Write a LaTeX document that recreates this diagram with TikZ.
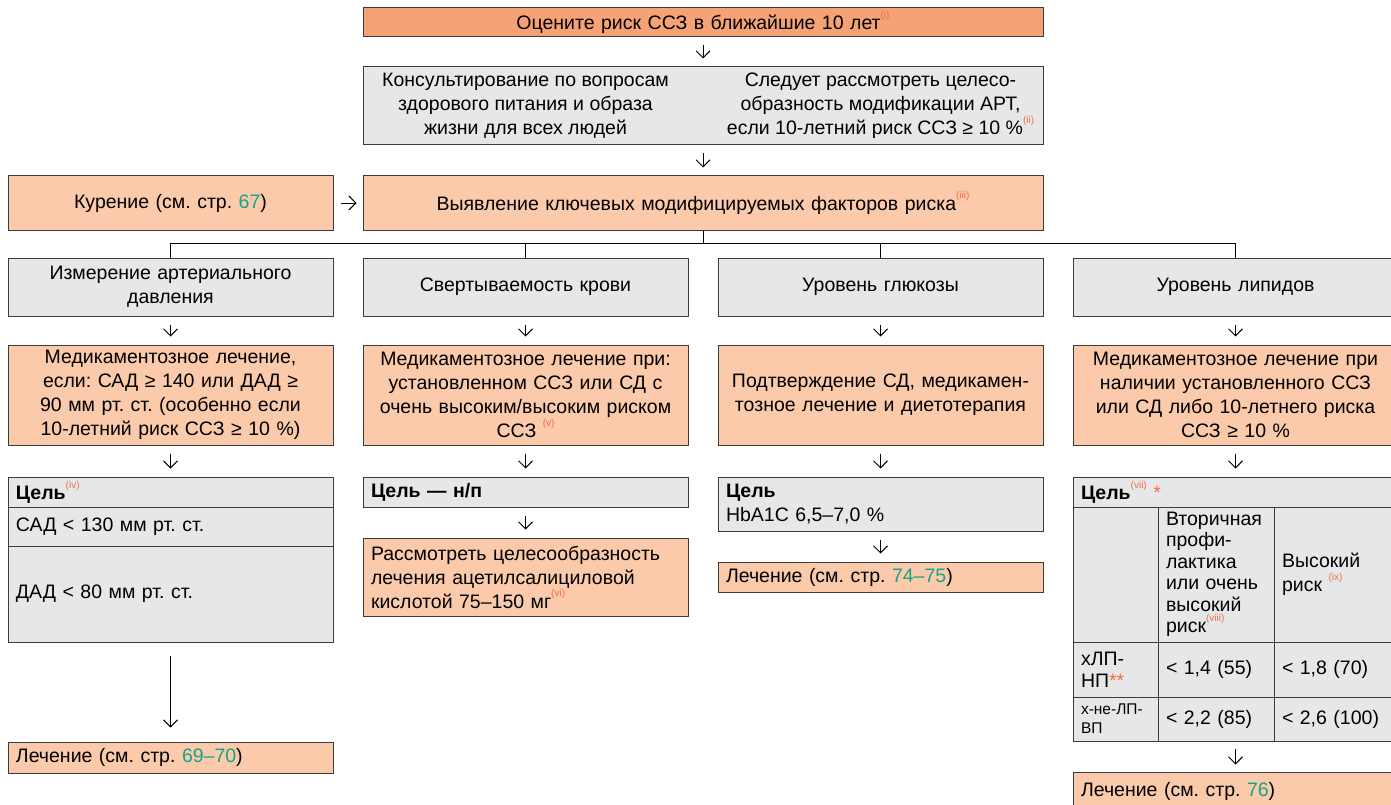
\documentclass[tikz,border=0pt]{standalone}
\usepackage{fontspec}
\setmainfont{Liberation Sans}
\usepackage{xcolor}
\usetikzlibrary{arrows.meta, calc, positioning}
\definecolor{salmondark}{RGB}{245,162,118}
\definecolor{salmonlight}{RGB}{251,202,171}
\definecolor{boxgray}{RGB}{230,231,232}
\definecolor{linegray}{RGB}{60,60,60}
\definecolor{linkgreen}{RGB}{20,165,135}
\definecolor{notered}{RGB}{242,110,70}
\frenchspacing
\newcommand{\bodyfont}{\fontsize{19.5}{24}\selectfont}
\newcommand{\noteref}[1]{\raisebox{1.1ex}{\color{notered}\fontsize{10}{10}\selectfont(#1)}}
\newcommand{\pg}[1]{\textcolor{linkgreen}{#1}}

\begin{document}
\begin{tikzpicture}[x=1pt, y=-1pt,
    base/.style={draw=linegray, line width=1pt, inner xsep=8pt, inner ysep=0pt, font=\bodyfont},
    darkbox/.style={base, fill=salmondark, align=center},
    orangebox/.style={base, fill=salmonlight, align=center},
    graybox/.style={base, fill=boxgray, align=center},
    leftbox/.style={align=left},
    colbox/.style={minimum width=325pt, text width=309pt},
    plain/.style={inner sep=0pt, align=center, font=\bodyfont},
    flow/.style={-{Straight Barb[length=7pt,width=14pt]}, line width=1pt, shorten <=8pt, shorten >=8pt},
    link/.style={line width=1pt}]
    \useasboundingbox (0,0) rectangle (1391,805);

    % Top of the chart
    \node[darkbox, minimum width=680pt, text width=664pt, minimum height=29pt] (assess) at (703,22.5) {Оцените риск ССЗ в ближайшие 10 лет\noteref{i}};
    \node[graybox, minimum width=680pt, minimum height=78pt] (advice) at (703,106) {};
    \node[plain] (adviceL) at (525.5,106) {Консультирование по вопросам\\здорового питания и образа\\жизни для всех людей};
    \node[plain] (adviceR) at (880.5,106) {Следует рассмотреть целесо-\\образность модификации АРТ,\\если 10-летний риск ССЗ ≥ 10~\%\noteref{ii}};
    \node[orangebox, minimum width=680pt, text width=664pt, minimum height=54pt] (factors) at (703,203) {Выявление ключевых модифицируемых факторов риска\noteref{iii}};
    \node[orangebox, colbox, minimum height=54pt] (smoke) at (170.5,203) {Курение (см. стр. \pg{67})};

    % Risk factor columns
    \node[graybox, colbox, minimum height=58pt] (bp) at (170.5,287) {Измерение артериального\\давления};
    \node[graybox, colbox, minimum height=58pt] (clot) at (525.5,287) {Свертываемость крови};
    \node[graybox, colbox, minimum height=58pt] (gluc) at (880.5,287) {Уровень глюкозы};
    \node[graybox, colbox, minimum height=58pt] (lip) at (1235.5,287) {Уровень липидов};

    \node[orangebox, colbox, minimum height=100pt] (bpdrug) at (170.5,395) {Медикаментозное лечение,\\если: САД ≥ 140 или ДАД ≥\\90 мм рт. ст. (особенно если\\10-летний риск ССЗ ≥ 10~\%)};
    \node[orangebox, colbox, minimum height=100pt] (clotdrug) at (525.5,395) {Медикаментозное лечение при:\\установленном ССЗ или СД с\\очень высоким/высоким риском\\ССЗ \noteref{v}};
    \node[orangebox, colbox, minimum height=100pt] (glucdrug) at (880.5,395) {Подтверждение СД, медикамен-\\тозное лечение и диетотерапия};
    \node[orangebox, colbox, minimum height=100pt] (lipdrug) at (1235.5,395) {Медикаментозное лечение при\\наличии установленного ССЗ\\или СД либо 10-летнего риска\\ССЗ ≥ 10~\%};

    % Blood pressure targets
    \node[graybox, colbox, leftbox, minimum height=30pt] (bpgoal) at (170.5,492) {\textbf{Цель}\noteref{iv}};
    \node[graybox, colbox, leftbox, minimum height=39pt] (bpsys) at (170.5,526.5) {САД < 130 мм рт. ст.};
    \node[graybox, colbox, leftbox, minimum height=96pt] (bpdia) at (170.5,594) {ДАД < 80 мм рт. ст.};
    \node[orangebox, colbox, leftbox, minimum height=31pt] (bptreat) at (170.5,757.5) {Лечение (см. стр. \pg{69–70})};

    % Clotting targets
    \node[graybox, colbox, leftbox, minimum height=30pt] (clotgoal) at (525.5,492) {\textbf{Цель — н/п}};
    \node[orangebox, colbox, leftbox, minimum height=78pt] (clotasa) at (525.5,577) {Рассмотреть целесообразность\\лечения ацетилсалициловой\\кислотой 75–150 мг\noteref{vi}};

    % Glucose targets
    \node[graybox, colbox, leftbox, minimum height=54pt] (glucgoal) at (880.5,504) {\textbf{Цель}\\HbA1C 6,5–7,0~\%};
    \node[orangebox, colbox, leftbox, minimum height=30pt] (gluctreat) at (880.5,577) {Лечение (см. стр. \pg{74–75})};

    % Lipid targets table
    \node[graybox, colbox, leftbox, minimum height=30pt] (lipgoal) at (1235.5,492) {\textbf{Цель}\noteref{vii} \textcolor{notered}{*}};
    \node[graybox, leftbox, minimum width=85pt, text width=69pt, minimum height=135pt] (lipA0) at (1115.5,574.5) {};
    \node[graybox, leftbox, minimum width=116pt, text width=100pt, minimum height=135pt, font=\fontsize{19.5}{21.5}\selectfont] (lipA1) at (1216,574.5) {Вторичная\\профи-\\лактика\\или очень\\высокий\\риск\noteref{viii}};
    \node[graybox, leftbox, minimum width=124pt, text width=108pt, minimum height=135pt] (lipA2) at (1336,574.5) {Высокий\\риск \noteref{ix}};
    \node[graybox, leftbox, minimum width=85pt, text width=69pt, minimum height=55pt, font=\fontsize{19.5}{22}\selectfont] (lipB0) at (1115.5,669.5) {хЛП-\\НП\textcolor{notered}{**}};
    \node[graybox, leftbox, minimum width=116pt, text width=100pt, minimum height=55pt] (lipB1) at (1216,669.5) {< 1,4 (55)};
    \node[graybox, leftbox, minimum width=124pt, text width=108pt, minimum height=55pt] (lipB2) at (1336,669.5) {< 1,8 (70)};
    \node[graybox, leftbox, minimum width=85pt, text width=69pt, minimum height=44pt, font=\fontsize{15.5}{19}\selectfont] (lipC0) at (1115.5,719) {х-не-ЛП-\\ВП};
    \node[graybox, leftbox, minimum width=116pt, text width=100pt, minimum height=44pt] (lipC1) at (1216,719) {< 2,2 (85)};
    \node[graybox, leftbox, minimum width=124pt, text width=108pt, minimum height=44pt] (lipC2) at (1336,719) {< 2,6 (100)};
    \node[orangebox, colbox, leftbox, minimum height=38pt] (liptreat) at (1235.5,791) {Лечение (см. стр. \pg{76})};

    % Connectors
    \draw[flow] (assess) -- (advice);
    \draw[flow] (advice) -- (factors);
    \draw[flow, shorten <=7pt, shorten >=6pt] (smoke) -- (factors);
    \coordinate (hub) at (703,243);
    \draw[link] (factors.south) -- (hub);
    \foreach \col in {bp,clot,gluc,lip}
        \draw[link] (hub) -| (\col.north);
    \foreach \a/\b in {bp/bpdrug, bpdrug/bpgoal, clot/clotdrug, clotdrug/clotgoal, clotgoal/clotasa, gluc/glucdrug, glucdrug/glucgoal, glucgoal/gluctreat, lip/lipdrug, lipdrug/lipgoal}
        \draw[flow] (\a) -- (\b);
    \draw[flow, shorten <=13pt, shorten >=14pt] (bpdia) -- (bptreat);
    \draw[flow, shorten <=7pt, shorten >=7pt] (lipgoal.south |- lipC0.south) -- (liptreat);
\end{tikzpicture}
\end{document}
